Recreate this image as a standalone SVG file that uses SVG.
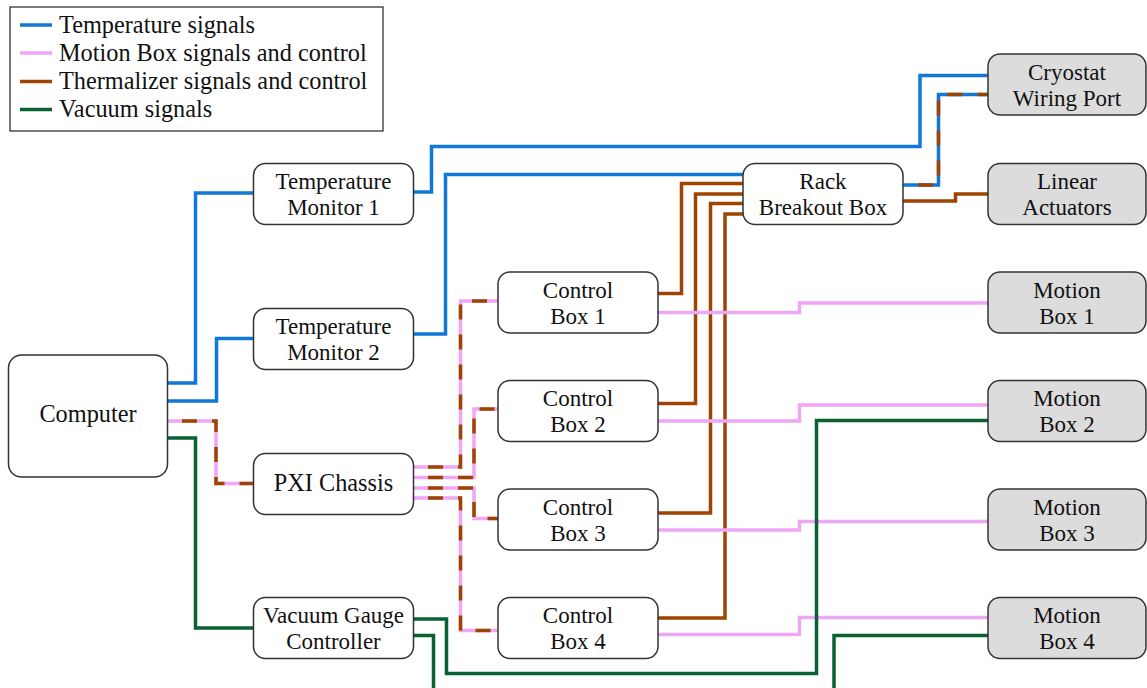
<svg xmlns="http://www.w3.org/2000/svg" width="1147" height="688" viewBox="0 0 1147 688">
<style>
.node rect{fill:#fff;stroke:#333;stroke-width:1.5}
.node.ext rect{fill:#dcdcdc}
text{font-family:"Liberation Serif","Times New Roman",serif;font-size:24.3px;fill:#111}
.node text{text-anchor:middle;font-size:23px}
.node text.one{font-size:24.3px}
.c{fill:none;stroke-width:3.5;stroke-linejoin:miter;stroke-linecap:butt}
.blue{stroke:#1278d8}
.pink{stroke:#f0a6f6}
.brown{stroke:#9e4300}
.green{stroke:#0a6234}
.dash{stroke-dasharray:15 15;stroke-dashoffset:15}
</style>
<g id="legend">
<rect x="10" y="7" width="373" height="124" fill="#fff" stroke="#222" stroke-width="1.2"/>
<line class="c blue" x1="20" y1="25" x2="52" y2="25"/>
<line class="c pink" x1="20" y1="53" x2="52" y2="53"/>
<line class="c brown" x1="20" y1="81.5" x2="52" y2="81.5"/>
<line class="c green" x1="20" y1="109.5" x2="52" y2="109.5"/>
<text x="59" y="33">Temperature signals</text>
<text x="59" y="61">Motion Box signals and control</text>
<text x="59" y="89">Thermalizer signals and control</text>
<text x="59" y="117">Vacuum signals</text>
</g>
<g id="connectors">
<path class="c blue" d="M167,383 H195.5 V193 H253"/>
<path class="c blue" d="M167,401 H216.5 V338.5 H253"/>
<path class="c blue" d="M413,192 H431.5 V146.5 H920 V75.5 H988"/>
<path class="c blue" d="M413,334 H445.5 V174.5 H743"/>
<path class="c blue" d="M903,185 H938.5 V94.5 H988"/>
<path class="c brown dash" d="M903,185 H938.5 V94.5 H988"/>
<path class="c brown" d="M903,201 H955.5 V194 H988"/>
<path class="c brown" d="M658,293.5 H681.5 V183.5 H743"/>
<path class="c brown" d="M658,403.5 H695.5 V194 H743"/>
<path class="c brown" d="M658,513 H710.5 V203.5 H743"/>
<path class="c brown" d="M658,618 H725 V214 H743"/>
<path class="c pink" d="M658,312.5 H799.5 V303 H988"/>
<path class="c pink" d="M658,421 H799.5 V405 H988"/>
<path class="c pink" d="M658,530 H799.5 V521.5 H988"/>
<path class="c pink" d="M658,634.5 H799.5 V617.5 H988"/>
<path class="c green" d="M167,438 H195.5 V628 H253"/>
<path class="c green" d="M413,619 H446.5 V673.5 H816.5 V420.5 H988"/>
<path class="c green" d="M413,635.5 H433.5 V700"/>
<path class="c green" d="M988,635.5 H834 V700"/>
<path class="c pink" d="M167,421 H216 V483.5 H253"/>
<path class="c brown dash" d="M167,421 H216 V483.5 H253"/>
<path class="c pink" d="M413,467 H460.5 V301 H498"/>
<path class="c brown dash" d="M413,467 H460.5 V301 H498"/>
<path class="c pink" d="M413,477.5 H474 V409 H498"/>
<path class="c brown dash" d="M413,477.5 H474 V409 H498"/>
<path class="c pink" d="M413,488 H474 V518.5 H498"/>
<path class="c brown dash" d="M413,488 H474 V518.5 H498"/>
<path class="c pink" d="M413,498 H460.5 V630.5 H498"/>
<path class="c brown dash" d="M413,498 H460.5 V630.5 H498"/>
</g>
<g id="computer" class="node"><rect x="8.5" y="355" width="159" height="122" rx="13"/><text class="one" x="88" y="422">Computer</text></g>
<g id="temp-monitor-1" class="node"><rect x="253.5" y="163.5" width="160" height="61" rx="12"/><text x="333.5" y="189">Temperature<tspan x="333.5" dy="26">Monitor 1</tspan></text></g>
<g id="temp-monitor-2" class="node"><rect x="253.5" y="308.5" width="160" height="61" rx="12"/><text x="333.5" y="334">Temperature<tspan x="333.5" dy="26">Monitor 2</tspan></text></g>
<g id="pxi-chassis" class="node"><rect x="253.5" y="453.5" width="160" height="61" rx="12"/><text class="one" x="333.5" y="491">PXI Chassis</text></g>
<g id="vacuum-gauge-controller" class="node"><rect x="253.5" y="597.5" width="160" height="61" rx="12"/><text x="333.5" y="623">Vacuum Gauge<tspan x="333.5" dy="26">Controller</tspan></text></g>
<g id="control-box-1" class="node"><rect x="498" y="272" width="160" height="61" rx="12"/><text x="578" y="297.5">Control<tspan x="578" dy="26">Box 1</tspan></text></g>
<g id="control-box-2" class="node"><rect x="498" y="380.5" width="160" height="61" rx="12"/><text x="578" y="406">Control<tspan x="578" dy="26">Box 2</tspan></text></g>
<g id="control-box-3" class="node"><rect x="498" y="489" width="160" height="61" rx="12"/><text x="578" y="514.5">Control<tspan x="578" dy="26">Box 3</tspan></text></g>
<g id="control-box-4" class="node"><rect x="498" y="597.5" width="160" height="61" rx="12"/><text x="578" y="623">Control<tspan x="578" dy="26">Box 4</tspan></text></g>
<g id="rack-breakout-box" class="node"><rect x="743" y="163.5" width="160" height="61" rx="12"/><text x="823" y="189">Rack<tspan x="823" dy="26">Breakout Box</tspan></text></g>
<g id="cryostat-wiring-port" class="node ext"><rect x="988" y="54" width="158" height="61" rx="12"/><text x="1067" y="79.5">Cryostat<tspan x="1067" dy="26">Wiring Port</tspan></text></g>
<g id="linear-actuators" class="node ext"><rect x="988" y="163.5" width="158" height="61" rx="12"/><text x="1067" y="189">Linear<tspan x="1067" dy="26">Actuators</tspan></text></g>
<g id="motion-box-1" class="node ext"><rect x="988" y="272" width="158" height="61" rx="12"/><text x="1067" y="297.5">Motion<tspan x="1067" dy="26">Box 1</tspan></text></g>
<g id="motion-box-2" class="node ext"><rect x="988" y="380.5" width="158" height="61" rx="12"/><text x="1067" y="406">Motion<tspan x="1067" dy="26">Box 2</tspan></text></g>
<g id="motion-box-3" class="node ext"><rect x="988" y="489" width="158" height="61" rx="12"/><text x="1067" y="514.5">Motion<tspan x="1067" dy="26">Box 3</tspan></text></g>
<g id="motion-box-4" class="node ext"><rect x="988" y="597.5" width="158" height="61" rx="12"/><text x="1067" y="623">Motion<tspan x="1067" dy="26">Box 4</tspan></text></g>
</svg>
